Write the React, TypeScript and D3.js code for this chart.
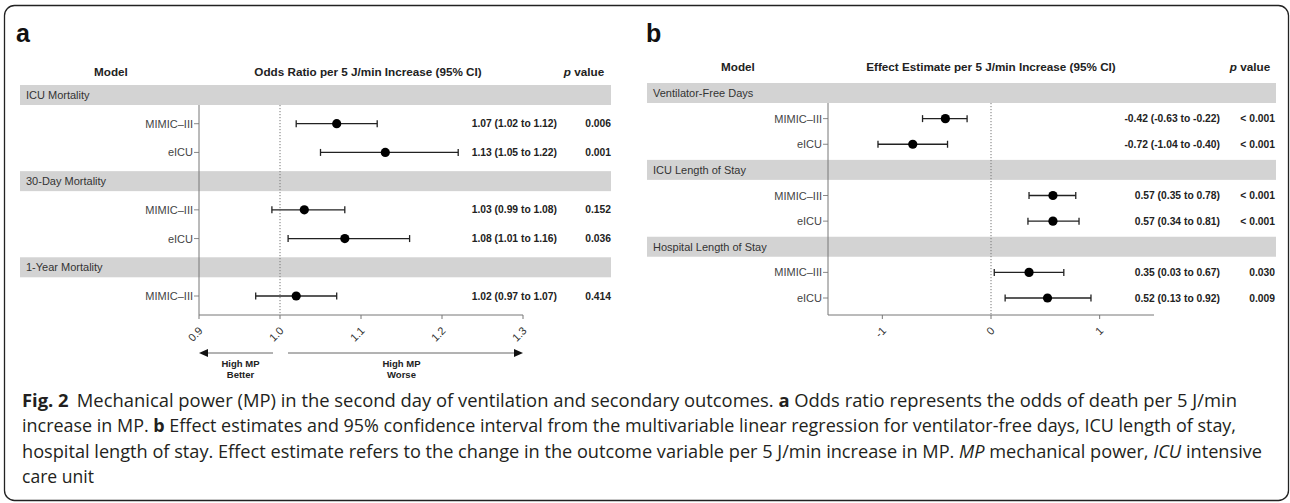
import * as d3 from "d3";

// panel a – odds ratios
const oddsGroups = ["ICU Mortality", "30-Day Mortality", "1-Year Mortality"];
const oddsGroupOf = [0, 0, 1, 1, 2];
const oddsModels = ["MIMIC–III", "eICU", "MIMIC–III", "eICU", "MIMIC–III"];
const oddsEstimate = [1.07, 1.13, 1.03, 1.08, 1.02];
const oddsLower = [1.02, 1.05, 0.99, 1.01, 0.97];
const oddsUpper = [1.12, 1.22, 1.08, 1.16, 1.07];
const oddsP = ["0.006", "0.001", "0.152", "0.036", "0.414"];
const oddsTicks = [0.9, 1.0, 1.1, 1.2, 1.3];

// panel b – linear regression effect estimates
const effectGroups = ["Ventilator-Free Days", "ICU Length of Stay", "Hospital  Length of  Stay"];
const effectGroupOf = [0, 0, 1, 1, 2, 2];
const effectModels = ["MIMIC–III", "eICU", "MIMIC–III", "eICU", "MIMIC–III", "eICU"];
const effectEstimate = [-0.42, -0.72, 0.57, 0.57, 0.35, 0.52];
const effectLower = [-0.63, -1.04, 0.35, 0.34, 0.03, 0.13];
const effectUpper = [-0.22, -0.4, 0.78, 0.81, 0.67, 0.92];
const effectP = ["< 0.001", "< 0.001", "< 0.001", "< 0.001", "0.030", "0.009"];
const effectTicks = [-1, 0, 1];

const chartFont = "'Liberation Sans', Arial, Helvetica, sans-serif";
const capFont = "'Open Sans', 'Noto Sans', sans-serif";

function Forest(props) {
  const {
    letter, letterX, title, groups, groupOf, models, est, lo, hi, pvals,
    ticks, tickFmt, domain, refValue, xRange, rowRange, headerY,
    modelX, titleX, pX, bandX0, bandX1, ciRight, pRight, axisY, arrows,
  } = props;

  const rows = [];
  groups.forEach((g, gi) => {
    rows.push({ kind: "group", gi });
    groupOf.forEach((v, i) => {
      if (v === gi) rows.push({ kind: "item", i });
    });
  });

  const x = d3.scaleLinear().domain(domain).range(xRange);
  const y = d3.scalePoint().domain(rows.map((_, k) => String(k))).range(rowRange);
  const bandH = 20;
  const axisTop = y("0") + bandH / 2;
  const axisX = xRange[0];

  return (
    <g fontFamily={chartFont}>
      <text x={letterX} y={42} fontSize={25} fontWeight="bold" fill="#111">{letter}</text>
      <text x={modelX} y={headerY} fontSize={11.7} fontWeight="bold" textAnchor="middle" fill="#222">Model</text>
      <text x={titleX} y={headerY} fontSize={11.7} fontWeight="bold" textAnchor="middle" fill="#222">{title}</text>
      <text x={pX} y={headerY} fontSize={11.7} fontWeight="bold" textAnchor="middle" fill="#222">
        <tspan fontStyle="italic">p</tspan> value
      </text>

      {rows.map((r, k) => {
        const cy = y(String(k));
        if (r.kind === "group") {
          return (
            <g key={k}>
              <rect x={bandX0} y={cy - bandH / 2} width={bandX1 - bandX0} height={bandH} fill="#d3d3d3" />
              <text x={bandX0 + 6} y={cy + 4} fontSize={11} fill="#333">{groups[r.gi]}</text>
            </g>
          );
        }
        const i = r.i;
        return (
          <g key={k}>
            <line x1={axisX - 5} x2={axisX} y1={cy} y2={cy} stroke="#888" />
            <text x={axisX - 6} y={cy + 4} fontSize={11} textAnchor="end" fill="#444">{models[i]}</text>
            <line x1={x(lo[i])} x2={x(hi[i])} y1={cy} y2={cy} stroke="#222" strokeWidth={1.3} />
            <line x1={x(lo[i])} x2={x(lo[i])} y1={cy - 3.5} y2={cy + 3.5} stroke="#222" strokeWidth={1.3} />
            <line x1={x(hi[i])} x2={x(hi[i])} y1={cy - 3.5} y2={cy + 3.5} stroke="#222" strokeWidth={1.3} />
            <circle cx={x(est[i])} cy={cy} r={4.6} fill="#000" />
            <text x={ciRight} y={cy + 3.5} fontSize={10.3} fontWeight="bold" textAnchor="end" fill="#222">
              {`${est[i].toFixed(2)} (${lo[i].toFixed(2)} to ${hi[i].toFixed(2)})`}
            </text>
            <text x={pRight} y={cy + 3.5} fontSize={10.3} fontWeight="bold" textAnchor="end" fill="#222">{pvals[i]}</text>
          </g>
        );
      })}

      {/* axes drawn over the group bands */}
      <line x1={axisX} x2={axisX} y1={axisTop} y2={axisY} stroke="#777" strokeWidth={1} />
      <line x1={axisX} x2={xRange[1]} y1={axisY} y2={axisY} stroke="#777" strokeWidth={1} />
      <line x1={x(refValue)} x2={x(refValue)} y1={axisTop} y2={axisY} stroke="#777"
        strokeWidth={1} strokeDasharray="1.2,1.8" />
      {ticks.map((t) => (
        <g key={t}>
          <line x1={x(t)} x2={x(t)} y1={axisY} y2={axisY + 4} stroke="#777" />
          <text transform={`translate(${x(t) - 1},${axisY + 11}) rotate(-45)`} textAnchor="end"
            dy="0.7em" fontSize={11} fill="#333">{tickFmt(t)}</text>
        </g>
      ))}

      {arrows && (
        <g>
          <line x1={axisX + 6} x2={x(refValue) - 7} y1={353} y2={353} stroke="#666" />
          <path d={`M${axisX},353 l9,-4 v8 z`} fill="#111" />
          <line x1={x(refValue) + 8} x2={xRange[1] - 6} y1={353} y2={353} stroke="#666" />
          <path d={`M${xRange[1]},353 l-9,-4 v8 z`} fill="#111" />
          <text x={(axisX + x(refValue)) / 2 + 1} y={367} fontSize={9.5} fontWeight="bold" textAnchor="middle" fill="#222">High MP</text>
          <text x={(axisX + x(refValue)) / 2 + 1} y={378} fontSize={9.5} fontWeight="bold" textAnchor="middle" fill="#222">Better</text>
          <text x={(x(refValue) + xRange[1]) / 2} y={367} fontSize={9.5} fontWeight="bold" textAnchor="middle" fill="#222">High MP</text>
          <text x={(x(refValue) + xRange[1]) / 2} y={378} fontSize={9.5} fontWeight="bold" textAnchor="middle" fill="#222">Worse</text>
        </g>
      )}
    </g>
  );
}

export default function App() {
  const W = 1290;
  const H = 503;
  return (
    <svg width={W} height={H} style={{ position: "absolute", left: 0, top: 0, background: "#fff" }}>
      <rect x={4.5} y={5.5} width={1284} height={495} rx={10} fill="#fff" stroke="#222" strokeWidth={1.3} />

      <Forest
        letter="a" letterX={16}
        title="Odds Ratio per 5 J/min Increase (95% CI)"
        groups={oddsGroups} groupOf={oddsGroupOf} models={oddsModels}
        est={oddsEstimate} lo={oddsLower} hi={oddsUpper} pvals={oddsP}
        ticks={oddsTicks} tickFmt={(t) => t.toFixed(1)}
        domain={[0.9, 1.3]} refValue={1} xRange={[199, 523]} rowRange={[95, 296]}
        headerY={76} modelX={111} titleX={368} pX={584}
        bandX0={20} bandX1={611} ciRight={557} pRight={611} axisY={315} arrows={true}
      />
      <Forest
        letter="b" letterX={646}
        title="Effect Estimate per 5 J/min Increase (95% CI)"
        groups={effectGroups} groupOf={effectGroupOf} models={effectModels}
        est={effectEstimate} lo={effectLower} hi={effectUpper} pvals={effectP}
        ticks={effectTicks} tickFmt={(t) => String(t)}
        domain={[-1.5, 1.5]} refValue={0} xRange={[828, 1154]} rowRange={[93, 298]}
        headerY={71} modelX={738} titleX={991} pX={1250}
        bandX0={647} bandX1={1276} ciRight={1220} pRight={1275} axisY={315} arrows={false}
      />

      <g fontFamily={capFont} fontSize={18} fill="#231f20">
        <text x={22} y={407} textLength={1215} lengthAdjust="spacingAndGlyphs">
          <tspan fontWeight="bold">Fig. 2</tspan>
          <tspan dx={8}>Mechanical power (MP) in the second day of ventilation and secondary outcomes. </tspan>
          <tspan fontWeight="bold">a</tspan>
          <tspan> Odds ratio represents the odds of death per 5 J/min</tspan>
        </text>
        <text x={22} y={432} textLength={1214} lengthAdjust="spacingAndGlyphs">
          <tspan>increase in MP. </tspan>
          <tspan fontWeight="bold">b</tspan>
          <tspan> Effect estimates and 95% confidence interval from the multivariable linear regression for ventilator-free days, ICU length of stay,</tspan>
        </text>
        <text x={22} y={458} textLength={1240} lengthAdjust="spacingAndGlyphs">
          <tspan>hospital length of stay. Effect estimate refers to the change in the outcome variable per 5 J/min increase in MP. </tspan>
          <tspan fontStyle="italic">MP</tspan>
          <tspan> mechanical power, </tspan>
          <tspan fontStyle="italic">ICU</tspan>
          <tspan> intensive</tspan>
        </text>
        <text x={22} y={483} textLength={72} lengthAdjust="spacingAndGlyphs">care unit</text>
      </g>
    </svg>
  );
}
